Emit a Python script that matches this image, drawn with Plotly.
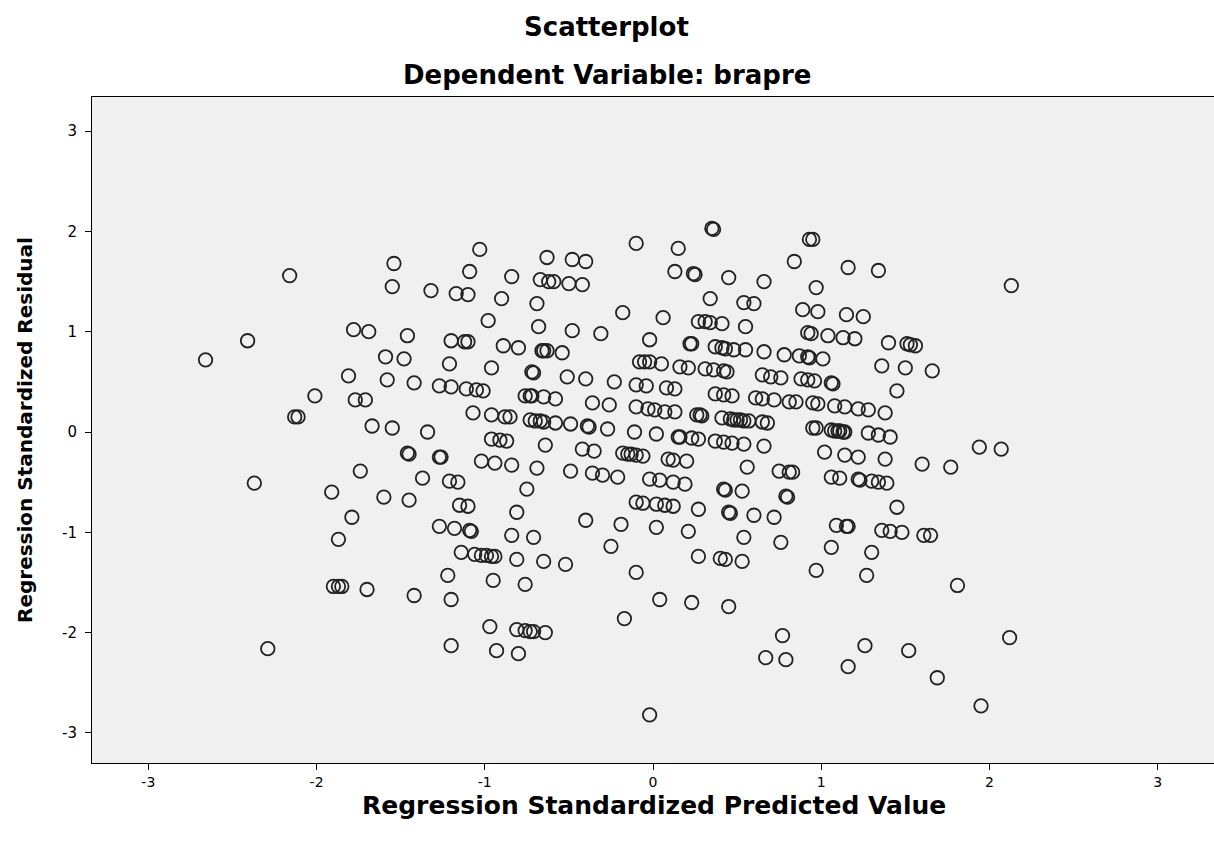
import plotly.graph_objects as go

# (Regression Standardized Predicted Value, Regression Standardized Residual)
pts_far_left = [(-2.16,1.56),(-1.54,1.68),(-1.55,1.45),(-1.32,1.41),(-1.78,1.02),(-1.69,1.00),(-1.46,0.96),(-2.41,0.91),(-2.66,0.72),(-1.59,0.75),(-1.48,0.73),(-1.81,0.56),(-1.58,0.52),(-1.42,0.49),(-2.01,0.36),(-1.77,0.32),(-1.71,0.32),
    (-2.13,0.15),(-2.11,0.15),(-1.67,0.06),(-1.55,0.04),(-1.46,-0.21),(-1.45,-0.22),(-1.74,-0.39),(-2.37,-0.51),(-1.91,-0.60),(-1.60,-0.65),(-1.45,-0.68),(-1.79,-0.85),(-1.87,-1.07),
    (-1.90,-1.54),(-1.87,-1.54),(-1.85,-1.54),(-1.70,-1.57),(-1.42,-1.63),(-2.29,-2.16)]

pts_left_top = [(-1.03,1.82),(-0.63,1.74),(-0.48,1.72),(-0.40,1.70),(-0.10,1.88),(-1.09,1.60),(-0.84,1.55),(-0.67,1.52),(-0.62,1.50),(-0.59,1.50),(-0.50,1.48),(-0.42,1.47),
    (-1.17,1.38),(-1.10,1.37),(-0.90,1.33),(-0.69,1.28),(-0.18,1.19),(0.06,1.14),(-0.98,1.11),(-0.68,1.05),(-0.48,1.01),(-0.31,0.98),(-0.02,0.92),
    (-1.20,0.91),(-1.12,0.90),(-1.10,0.90),(-0.89,0.86),(-0.80,0.84),(-0.66,0.81),(-0.65,0.81),(-0.63,0.81),(-0.54,0.79),
    (-1.21,0.68),(-0.96,0.64),(-0.72,0.60),(-0.71,0.59),(-0.51,0.55),(-0.40,0.53),(-0.23,0.50),
    (-0.08,0.70),(-0.05,0.70),(-0.02,0.70),(0.05,0.68),(-0.10,0.47),(-0.04,0.46),(0.08,0.44),
    (-1.27,0.46),(-1.20,0.45),(-1.11,0.43),(-1.05,0.42),(-1.01,0.41)]

pts_right_top = [(0.35,2.03),(0.36,2.02),(0.15,1.83),(0.93,1.92),(0.95,1.92),(0.84,1.70),(1.16,1.64),(1.34,1.61),(0.13,1.60),(0.24,1.58),(0.25,1.57),(0.45,1.54),(0.66,1.50),(0.97,1.44),(0.34,1.33),(0.54,1.29),(0.60,1.28),(0.89,1.22),(0.98,1.20),(1.15,1.17),(1.25,1.15),
    (0.27,1.10),(0.31,1.10),(0.34,1.09),(0.41,1.08),(0.55,1.05),(0.92,0.99),(0.94,0.98),(1.04,0.96),(1.13,0.94),(1.20,0.93),(1.40,0.89),
    (0.22,0.88),(0.23,0.88),(0.37,0.85),(0.41,0.84),(0.43,0.83),(0.48,0.82),(0.55,0.82),(0.66,0.80),(0.78,0.77),(0.87,0.76),(0.92,0.75),(0.93,0.74),(1.01,0.73),(1.36,0.66),
    (0.16,0.65),(0.21,0.64),(0.31,0.63),(0.36,0.62),(0.42,0.61),(0.44,0.60),(0.65,0.57),(0.70,0.55),(0.76,0.54),(0.88,0.53),(0.92,0.52),(0.96,0.51),(1.06,0.49),(1.07,0.48),(1.45,0.41),(0.13,0.43),
    (2.13,1.46),(1.51,0.88),(1.53,0.87),(1.56,0.86),(1.50,0.64),(1.66,0.61)]

pts_left_mid = [(-0.76,0.36),(-0.73,0.36),(-0.72,0.36),(-0.65,0.35),(-0.58,0.33),(-0.36,0.29),(-0.26,0.27),(-0.10,0.25),(-0.03,0.23),(0.01,0.22),(0.07,0.20),
    (-1.07,0.19),(-0.96,0.17),(-0.88,0.15),(-0.85,0.15),(-0.73,0.12),(-0.70,0.11),(-0.67,0.11),(-0.65,0.10),(-0.58,0.09),(-0.49,0.08),(-0.39,0.06),(-0.38,0.05),(-0.27,0.03),(-0.11,0.00),(0.02,-0.02),(-1.34,0.00),
    (-0.96,-0.07),(-0.91,-0.08),(-0.87,-0.09),(-0.64,-0.13),(-0.42,-0.17),(-0.35,-0.19),(-0.18,-0.21),(-0.15,-0.22),(-0.13,-0.22),(-0.10,-0.23),(-0.06,-0.24),
    (-1.27,-0.25),(-1.26,-0.25),(-1.02,-0.29),(-0.94,-0.31),(-0.84,-0.33),(-0.69,-0.36),(-0.49,-0.39),(-0.36,-0.41),(-0.30,-0.43),(-0.21,-0.45),(-1.37,-0.46),(-1.21,-0.49),(-1.16,-0.50),(-0.02,-0.47),
    (-0.75,-0.57),(-1.15,-0.73),(-1.10,-0.74),(-0.81,-0.80),(-0.10,-0.70),(-0.06,-0.71),(0.02,-0.72),(-0.40,-0.88),(-0.19,-0.92),(0.02,-0.95),
    (-1.27,-0.94),(-1.18,-0.96),(-1.09,-0.98),(-1.08,-0.99),(-0.84,-1.03),(-0.71,-1.05),(-0.25,-1.14),(-1.14,-1.20),(-1.06,-1.22),(-1.02,-1.23),(-0.99,-1.23),(-0.96,-1.24),(-0.94,-1.24),(-0.81,-1.27),(-0.65,-1.29),(-0.52,-1.32)]

pts_right_mid = [(0.37,0.38),(0.42,0.37),(0.47,0.36),(0.61,0.34),(0.65,0.33),(0.72,0.32),(0.81,0.30),(0.85,0.30),(0.95,0.29),(0.98,0.28),(1.08,0.26),(1.14,0.25),(1.22,0.23),(1.28,0.22),(1.38,0.19),
    (0.13,0.20),(0.26,0.17),(0.28,0.17),(0.29,0.16),(0.41,0.14),(0.46,0.13),(0.48,0.12),(0.50,0.12),(0.52,0.12),(0.54,0.11),(0.57,0.11),(0.65,0.10),(0.68,0.09),
    (0.15,-0.05),(0.16,-0.05),(0.23,-0.06),(0.27,-0.07),(0.37,-0.09),(0.42,-0.10),(0.47,-0.11),(0.54,-0.12),(0.66,-0.14),
    (0.95,0.04),(0.97,0.04),(1.06,0.02),(1.08,0.01),(1.10,0.01),(1.11,0.01),(1.13,0.00),(1.14,0.00),(1.28,-0.01),(1.34,-0.03),(1.41,-0.05),
    (1.02,-0.20),(1.14,-0.23),(1.22,-0.25),(1.38,-0.27),(0.09,-0.27),(0.12,-0.28),(0.20,-0.29),(0.56,-0.35),(0.75,-0.39),(0.81,-0.40),(0.83,-0.40),
    (1.06,-0.45),(1.11,-0.46),(1.22,-0.47),(1.23,-0.48),(1.30,-0.49),(1.34,-0.50),(1.39,-0.51),(0.04,-0.48),(0.12,-0.50),(0.19,-0.52),
    (0.42,-0.57),(0.43,-0.58),(0.53,-0.59),(0.79,-0.64),(0.80,-0.65),(0.07,-0.73),(0.12,-0.74),(0.27,-0.77),(0.45,-0.80),(0.46,-0.81),(0.60,-0.83),(0.72,-0.85),(1.45,-0.75),
    (0.21,-0.99),(1.09,-0.93),(1.15,-0.94),(1.16,-0.94),(1.36,-0.98),(1.41,-0.99),(1.48,-1.00),(0.54,-1.05),(0.76,-1.10),(1.06,-1.15),(1.30,-1.20),(0.27,-1.24),(0.40,-1.26),(0.43,-1.27),(0.53,-1.29),
    (1.94,-0.15),(2.07,-0.17),(1.60,-0.32),(1.77,-0.35),(1.61,-1.03),(1.65,-1.03)]

pts_bottom = [(-1.22,-1.43),(-0.95,-1.48),(-0.76,-1.52),(-1.20,-1.67),(-0.10,-1.40),(0.04,-1.67),(-0.17,-1.86),(-0.97,-1.94),(-0.81,-1.97),(-0.76,-1.98),(-0.73,-1.99),(-0.71,-1.99),(-0.64,-2.00),(-1.20,-2.13),(-0.93,-2.18),(-0.80,-2.21),(-0.02,-2.82),
    (0.97,-1.38),(1.27,-1.43),(0.23,-1.70),(0.45,-1.74),(0.77,-2.03),(0.67,-2.25),(0.79,-2.27),(1.26,-2.13),(1.16,-2.34),
    (1.81,-1.53),(2.12,-2.05),(1.52,-2.18),(1.69,-2.45),(1.95,-2.73)]

tick_vals = [-3, -2, -1, 0, 1, 2, 3]
tick_text = ["-3", "-2", "-1", "0", "1", "2", "3"]

all_pts = pts_far_left + pts_left_top + pts_right_top + pts_left_mid + pts_right_mid + pts_bottom
pred = [p[0] for p in all_pts]
resid = [p[1] for p in all_pts]

fig = go.Figure()
fig.add_trace(go.Scatter(
    x=pred, y=resid, mode="markers",
    marker=dict(symbol="circle-open", size=13.5, color="#222222", line=dict(width=1.8, color="#222222")),
    hoverinfo="x+y", showlegend=False,
))

FONT = "DejaVu Sans"
fig.update_layout(
    width=1214, height=846,
    margin=dict(l=92, r=0, t=97, b=83),
    paper_bgcolor="white", plot_bgcolor="#f0f0f0",
    font=dict(family=FONT, color="black"),
    xaxis=dict(range=[-3.335, 3.335], tickvals=tick_vals, ticktext=tick_text,
               showgrid=False, zeroline=False, showline=True, linecolor="black", linewidth=1,
               mirror=True, ticks="outside", ticklen=6, tickcolor="black",
               tickfont=dict(size=14, family=FONT)),
    yaxis=dict(range=[-3.30, 3.34], tickvals=tick_vals, ticktext=tick_text,
               showgrid=False, zeroline=False, showline=True, linecolor="black", linewidth=1,
               ticks="outside", ticklen=6, tickcolor="black", ticklabelstandoff=5,
               tickfont=dict(size=15, family=FONT)),
    annotations=[
        dict(text="<b>Scatterplot</b>", xref="paper", yref="paper", x=0.459, y=1.105,
             xanchor="center", yanchor="middle", showarrow=False, font=dict(size=26, family=FONT)),
        dict(text="<b>Dependent Variable: brapre</b>", xref="paper", yref="paper", x=0.459, y=1.033,
             xanchor="center", yanchor="middle", showarrow=False, font=dict(size=26, family=FONT)),
        dict(text="<b>Regression Standardized Predicted Value</b>", xref="paper", yref="paper", x=0.5009, y=-0.064,
             xanchor="center", yanchor="middle", showarrow=False, font=dict(size=25, family=FONT)),
        dict(text="<b>Regression Standardized Residual</b>", xref="paper", yref="paper", x=-0.0597, y=0.5,
             xanchor="center", yanchor="middle", showarrow=False, textangle=-90, font=dict(size=20, family=FONT)),
    ],
)

fig.write_html("out.html", config={"displayModeBar": False},
               post_script="document.body.style.margin='0px';document.body.style.overflow='hidden';")
